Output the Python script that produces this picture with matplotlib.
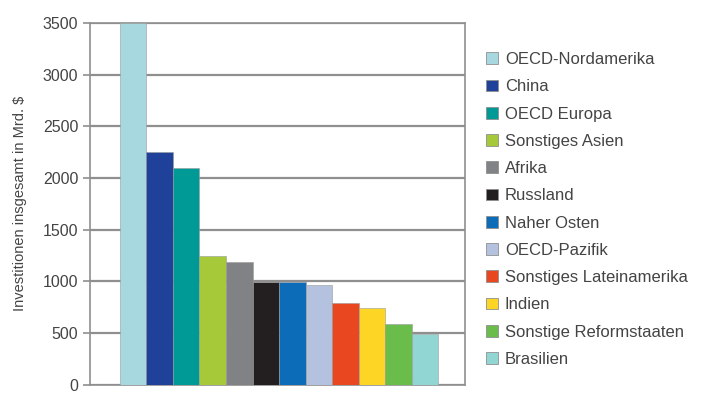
import numpy as np
import matplotlib
matplotlib.use("Agg")
import matplotlib.pyplot as plt

plt.rcParams['font.family'] = ['Liberation Sans', 'DejaVu Sans']

# Regionen und Investitionen (Mrd. $)
regionen = ["OECD-Nordamerika", "China", "OECD Europa", "Sonstiges Asien", "Afrika",
            "Russland", "Naher Osten", "OECD-Pazifik", "Sonstiges Lateinamerika",
            "Indien", "Sonstige Reformstaaten", "Brasilien"]
werte = [3500, 2250, 2100, 1240, 1190, 990, 990, 960, 790, 740, 590, 490]
farben = ["#a8d8df", "#1f4199", "#009a96", "#a6c93a", "#808285", "#231f20",
          "#0c6cb8", "#b4c1df", "#e8471f", "#fdd524", "#6bbd4b", "#92d6d4"]
yticks = [0, 500, 1000, 1500, 2000, 2500, 3000, 3500]

fig = plt.figure(figsize=(7.05, 3.94), dpi=100)
ax = fig.add_axes([0.1277, 0.024, 0.532, 0.918])

x = np.arange(len(werte))
balken = ax.bar(x, werte, width=1.0, color=farben, edgecolor="#9a9a9a", linewidth=0.4,
                label=regionen, zorder=3)

ax.set_ylim(0, 3500)
ax.set_xlim(-1.63, 12.52)
ax.set_yticks(yticks)
ax.set_xticks([])
ax.yaxis.grid(True, color="#8f8f8f", linewidth=1.6, zorder=0)
for s in ax.spines.values():
    s.set_color("#8f8f8f")
    s.set_linewidth(1.2)
ax.tick_params(axis="y", colors="#8f8f8f", length=5, width=1.2, labelsize=11.5, labelcolor="#444444")
ax.set_ylabel("Investitionen insgesamt in Mrd. $", fontsize=10.5, color="#444444", labelpad=11)

leg = fig.legend(balken, regionen, loc="upper left", bbox_to_anchor=(0.690, 0.868),
                 frameon=False, fontsize=12, handlelength=0.7, handleheight=0.7,
                 handletextpad=0.4, labelspacing=0.735, borderaxespad=0, borderpad=0)
for t in leg.get_texts():
    t.set_color("#444444")
for h in leg.legend_handles:
    h.set_edgecolor("#8f8f8f")
    h.set_linewidth(0.6)

fig.savefig("out.png", dpi=100)
